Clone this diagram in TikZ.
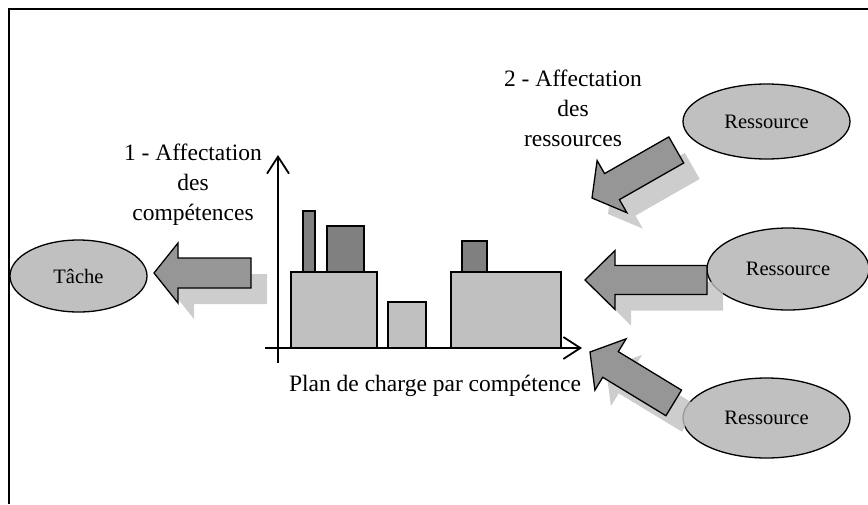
\documentclass[tikz,border=0pt]{standalone}
\usepackage{fontspec}
\setmainfont{Liberation Serif}
\usetikzlibrary{shapes.geometric,arrows.meta}
\definecolor{lightg}{HTML}{C0C0C0}
\definecolor{darkg}{HTML}{808080}
\definecolor{arrowg}{HTML}{969696}
\tikzset{
 blob/.style={ellipse, draw=black, line width=1.3pt, fill=lightg, inner sep=0pt, font=\fontsize{20.5}{24}\selectfont},
 caption/.style={align=center, font=\fontsize{23.5}{30}\selectfont},
 bararrow/.style={draw=black, line width=1.3pt, fill=arrowg, line join=miter},
 shadowarrow/.style={fill=lightg, draw=none, opacity=0.8},
 lowbar/.style={draw=black, line width=1.3pt, fill=lightg},
 highbar/.style={draw=black, line width=1.3pt, fill=darkg},
 axisline/.style={line width=1.8pt, -{Straight Barb[length=17pt,width=22pt]}},
 framelin/.style={line width=1.6pt},
 pics/blockarrow/.style args={#1/#2/#3/#4}{code={
   \path[pic actions] (0,0) -- (#2,#3) -- (#2,#4) -- (#1,#4) -- (#1,-#4) -- (#2,-#4) -- (#2,-#3) -- cycle;
 }},
}
\begin{document}
\begin{tikzpicture}[x=1pt,y=-1pt]
\useasboundingbox (0,0) rectangle (868,504);
% frame
\draw[framelin] (9,504) -- (9,9) -- (868,9);
% ellipses
\node[blob, minimum width=137pt, minimum height=72pt] (tache) at (78.5,276) {Tâche};
\node[blob, minimum width=167pt, minimum height=75pt] (res1) at (766.5,121.5) {Ressource};
\node[blob, minimum width=162pt, minimum height=82pt] (res2) at (788,269) {Ressource};
\node[blob, minimum width=167pt, minimum height=80pt] (res3) at (766.5,418) {Ressource};
% shadows
\pic[shadowarrow] at (170,289) {blockarrow=97/24/30/15};
\pic[shadowarrow] at (601,296) {blockarrow=122/30/29.5/14.5};
\pic[shadowarrow, rotate=29.7] at (608,214) {blockarrow=97/23/30/15};
\pic[shadowarrow, rotate=-31.3] at (606,368) {blockarrow=98/24/30/15};
% arrows
\pic[bararrow] (a1) at (154,273) {blockarrow=97/24/30/15};
\pic[bararrow] (a2) at (585,280) {blockarrow=122/30/29.5/14.5};
\pic[bararrow, rotate=29.7] (a3) at (592,198) {blockarrow=97/23/30/15};
\pic[bararrow, rotate=-31.3] (a4) at (590,352) {blockarrow=98/24/30/15};
% bars
\draw[lowbar] (291,348) rectangle (377,272);
\draw[lowbar] (388,348) rectangle (426,302);
\draw[lowbar] (451,348) rectangle (561,272);
\draw[highbar] (303,272) rectangle (315,211);
\draw[highbar] (327,272) rectangle (364,226);
\draw[highbar] (462,272) rectangle (487,241);
% axes
\coordinate (yo) at (278,363);
\coordinate (yt) at (278,155);
\coordinate (xo) at (265,348);
\coordinate (xt) at (582,348);
\draw[axisline] (yo) -- (yt);
\draw[axisline] (xo) -- (xt);
% texts
\node[caption] (t1) at (193,185) {1 - Affectation\\des\\compétences};
\node[caption] (t2) at (573,108) {2 - Affectation\\des\\ressources};
\node[caption, anchor=base] (t3) at (435,391) {Plan de charge par compétence};
\end{tikzpicture}
\end{document}
